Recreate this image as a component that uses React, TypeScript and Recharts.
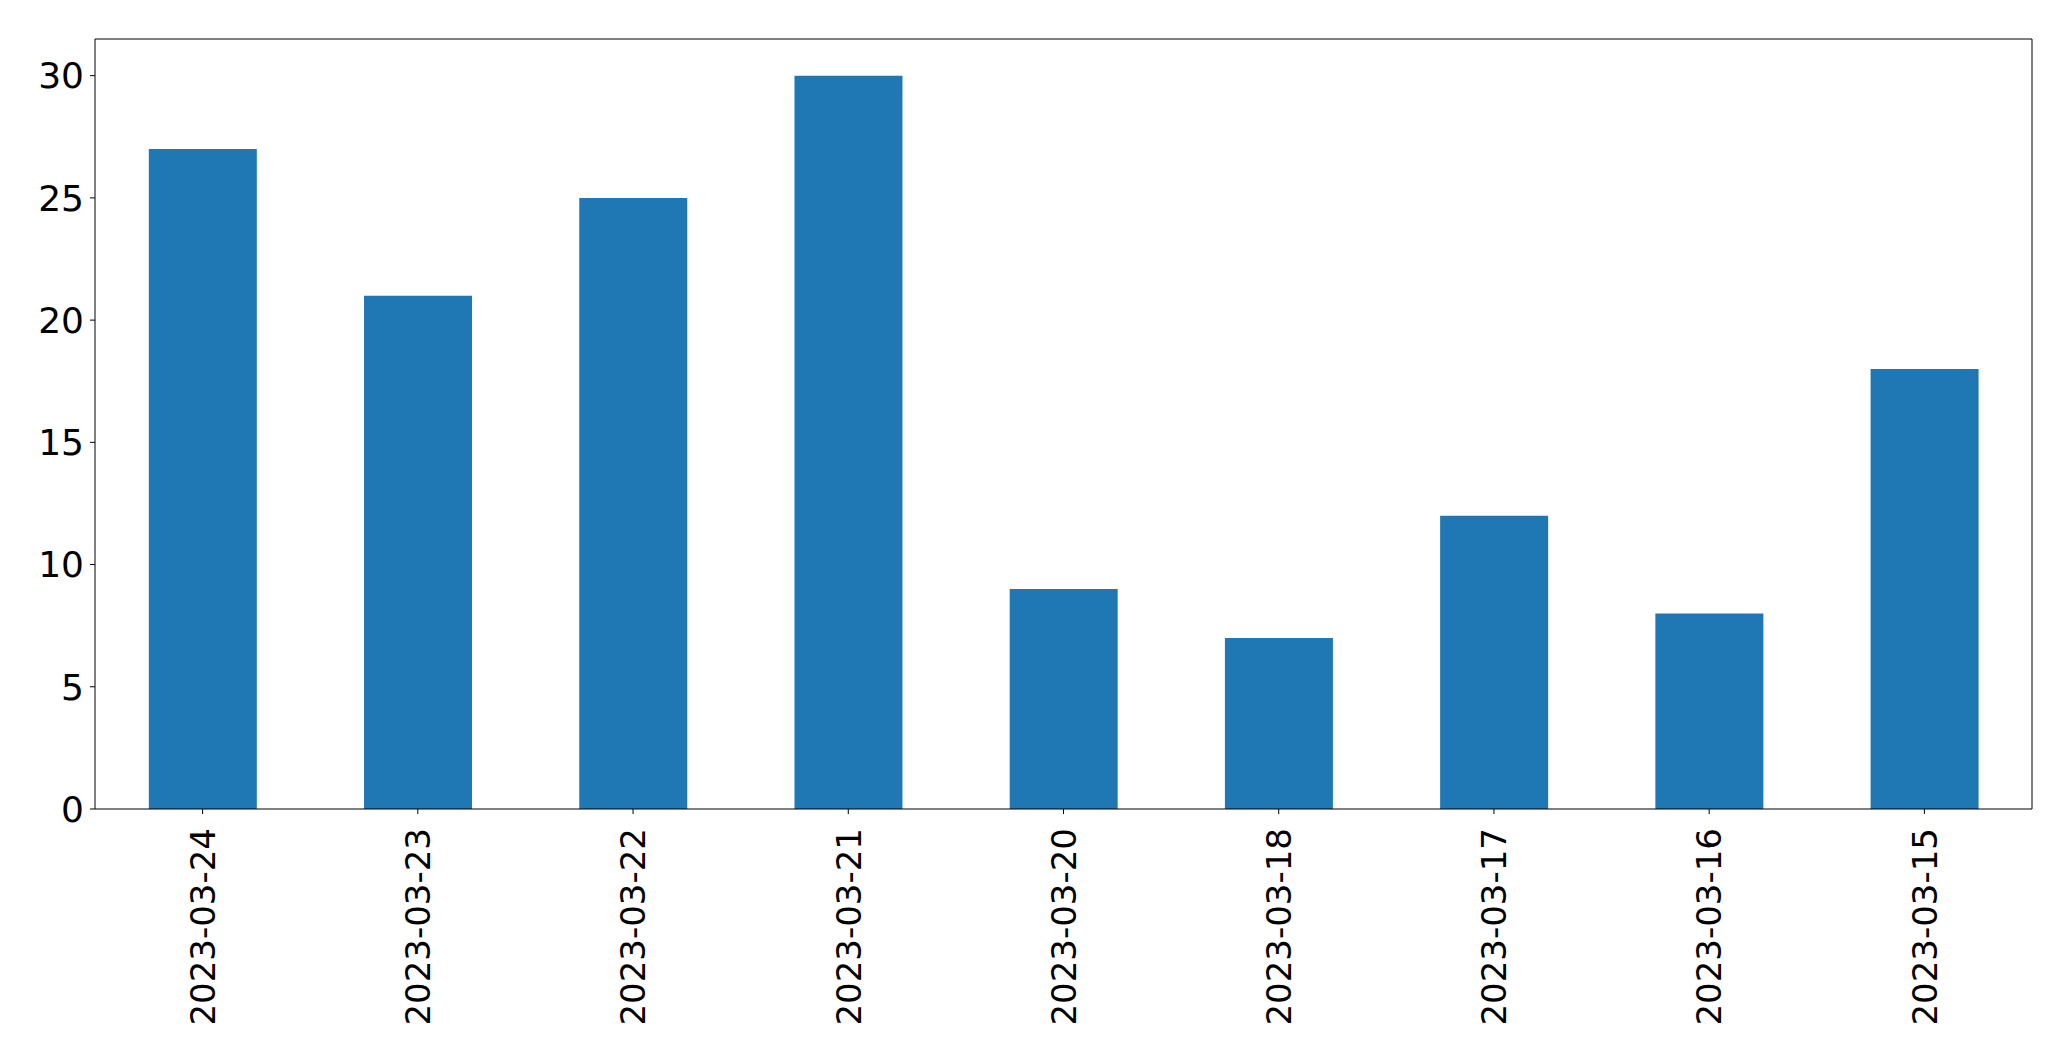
import { BarChart, Bar, XAxis, YAxis } from "recharts";

const dates = [
  "2023-03-24", "2023-03-23", "2023-03-22", "2023-03-21", "2023-03-20",
  "2023-03-18", "2023-03-17", "2023-03-16", "2023-03-15",
];
const counts = [27, 21, 25, 30, 9, 7, 12, 8, 18];
const yTicks = [0, 5, 10, 15, 20, 25, 30];

const FONT = "DejaVu Sans";

// eslint-disable-next-line @typescript-eslint/no-explicit-any
const DateTick = (props: any) => {
  const { x, y, payload } = props;
  return (
    <g transform={`translate(${x},${y})`}>
      <text
        transform="rotate(-90)"
        textAnchor="end"
        dy="0.36em"
        fill="#000"
        fontSize={34}
        fontFamily={FONT}
      >
        {payload.value}
      </text>
    </g>
  );
};

export default function App() {
  const data = dates.map((d, i) => ({ date: d, count: counts[i] }));

  return (
    <div style={{ position: "absolute", left: 0, top: 0, background: "#fff" }}>
      <BarChart
        width={2071}
        height={1061}
        data={data}
        barCategoryGap="25%"
        margin={{ top: 38, right: 38, bottom: 0, left: 0 }}
      >
        <XAxis
          dataKey="date"
          height={252}
          interval={0}
          axisLine={{ stroke: "#000" }}
          tickLine={{ stroke: "#000" }}
          tickSize={5}
          tickMargin={14}
          tick={<DateTick />}
        />
        {/* top and right axes only draw the frame */}
        <XAxis
          xAxisId="top"
          dataKey="date"
          orientation="top"
          height={1}
          tick={false}
          tickLine={false}
          axisLine={{ stroke: "#000" }}
        />
        <YAxis
          width={95}
          domain={[0, 31.5]}
          ticks={yTicks}
          interval={0}
          axisLine={{ stroke: "#000" }}
          tickLine={{ stroke: "#000" }}
          tickSize={5}
          tickMargin={6}
          tick={{ fill: "#000", fontSize: 36, fontFamily: FONT }}
        />
        <YAxis
          yAxisId="right"
          orientation="right"
          width={1}
          domain={[0, 31.5]}
          tick={false}
          tickLine={false}
          axisLine={{ stroke: "#000" }}
        />
        <Bar dataKey="count" fill="#1f77b4" isAnimationActive={false} />
      </BarChart>
    </div>
  );
}
